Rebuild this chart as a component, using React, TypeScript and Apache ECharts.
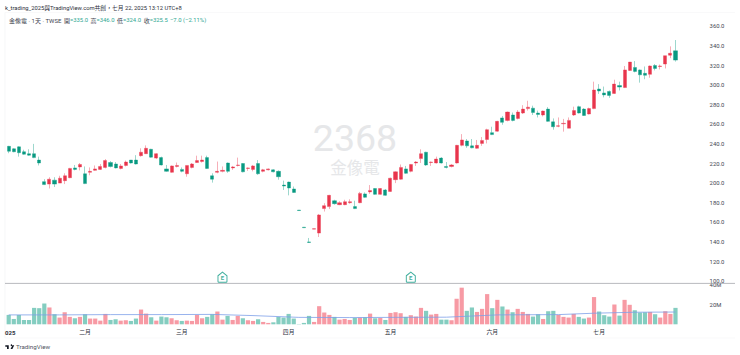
import React, { useEffect, useRef } from "react";
import * as echarts from "echarts";

const FONT = 'Roboto, "Noto Sans CJK TC", sans-serif';
const UP = "#e8354c";
const DOWN = "#089981";
const UP_VOL = "#f79aa4";
const DOWN_VOL = "#84cdc0";
const TEAL_TEXT = "#2fa893";
const DARK = "#434651";

const titleText = "k_trading_2025與TradingView.com共創，七月 22, 2025 13:12 UTC+8";
const legendName = "金像電 · 1天 · TWSE";
const legendItems = [
  { label: "開", value: "=335.0" },
  { label: "高", value: "=346.0" },
  { label: "低", value: "=324.0" },
  { label: "收", value: "=325.5" },
];
const legendChange = "−7.0 (−2.11%)";
const watermarkCode = "2368";
const watermarkName = "金像電";

const opens = [
  237.5, 235, 237, 232, 230, 230, 223.5, 201.5, 199, 203,
  200, 202.5, 205.5, 215.5, 216.5, 209.5, 211, 213, 214, 216,
  221, 219.5, 215, 218, 223.5, 223.5, 228, 230, 234.5, 225.5,
  226, 214.5, 211, 217, 214, 209.5, 216, 221, 222, 226,
  207.5, 211, 212, 220.5, 215.5, 218, 220, 215, 214, 220,
  212, 213.5, 213.5, 212, 198, 201, 194, 172.5, 155, 140,
  153, 149, 174, 176, 182, 178, 178, 180, 176, 180,
  189, 191, 194.5, 188.5, 193, 191.5, 203.5, 204, 214.5, 212,
  220.5, 225, 231.5, 221, 220.5, 225.5, 217, 217, 220.5, 238.5,
  243, 238, 235.5, 240.5, 244.5, 251.5, 253, 266.5, 264, 269.5,
  266, 271.5, 276, 276.5, 271.5, 269.5, 275.5, 262.5, 258, 260.5,
  256, 269.5, 278, 275.5, 270.5, 276, 296, 292, 293.5, 291.5,
  299.5, 297.5, 315, 318, 315.5, 312, 311, 320, 319, 321.5,
  330.5, 335,
];
const closes = [
  232.5, 232, 231, 229.5, 228.5, 226, 220.5, 198.5, 204, 199,
  205, 207.5, 215, 214, 219, 199.5, 212, 214.5, 217, 223,
  217, 215.5, 217.5, 221.5, 220.5, 219.5, 231.5, 235.5, 226.5, 230,
  218.5, 212, 217.5, 218, 212, 218, 219.5, 223, 223.5, 215,
  204, 212, 213, 212, 216.5, 218.5, 211.5, 215.5, 217.5, 209.5,
  213.5, 214.5, 211.5, 206.5, 197, 195, 190.5, 172, 154.5, 139.5,
  153.5, 167.5, 177, 187.5, 179, 180, 181, 181, 174, 189.5,
  185.5, 192.5, 188.5, 194.5, 187.5, 205, 211.5, 216, 210, 219,
  221.5, 230, 218.5, 221.5, 224.5, 220.5, 216, 218.5, 238.5, 244,
  238, 236, 238.5, 243.5, 254.5, 249.5, 263, 262, 272.5, 264,
  272.5, 275.5, 277.5, 272, 270, 273.5, 263, 257.5, 258.5, 261,
  264, 274, 271.5, 269, 276, 295, 294, 290, 289.5, 301,
  298, 315.5, 323.5, 314, 310.5, 310, 319.5, 317, 319.5, 330,
  332.5, 325.5,
];
const lows = [
  230.5, 231.5, 227, 229, 228, 225.5, 218, 198, 194.5, 196,
  200, 199, 205, 213, 213, 199, 208, 212.5, 213.5, 215,
  216, 215, 214, 217, 220, 219, 227, 230, 226, 224.5,
  218, 211.5, 210.5, 216, 211, 206.5, 215, 220.5, 221, 214.5,
  200.5, 210, 211, 210.5, 213.5, 217, 211, 212.5, 212, 208.5,
  211, 213, 211, 203.5, 193, 187.5, 190, 172, 154.5, 139,
  153, 145, 171, 173.5, 178, 177.5, 177.5, 179, 173.5, 179.5,
  185, 189, 188, 188, 187, 191, 200, 203.5, 209.5, 211,
  217.5, 220.5, 217.5, 217.5, 220, 220, 215, 216, 220, 237.5,
  236, 235.5, 235, 238, 240.5, 249, 252.5, 259.5, 263, 263,
  265, 270.5, 274, 269.5, 267, 268, 262.5, 254.5, 257, 252.5,
  256, 268.5, 271, 268.5, 270, 275.5, 291, 287.5, 287, 291,
  294.5, 297, 314.5, 313, 302.5, 306, 307.5, 315, 316, 317,
  327.5, 324,
];
const highs = [
  238, 235.5, 237.5, 234, 234.5, 240, 227, 204, 206, 206,
  207.5, 210, 215.5, 218.5, 220.5, 217, 216, 218, 219.5, 224.5,
  222.5, 221.5, 219.5, 223, 223.5, 228.5, 235.5, 238.5, 235, 230.5,
  227, 218.5, 218, 221, 216, 218, 220.5, 228, 228, 228,
  210, 222, 217, 221, 217.5, 226, 220.5, 216, 218.5, 223.5,
  214.5, 215, 214, 213, 202.5, 201.5, 196.5, 172.5, 155, 144,
  153.5, 168.5, 179.5, 188, 183, 181.5, 183, 183.5, 182, 191,
  190.5, 198, 195, 195, 194, 205.5, 212, 219, 217.5, 219.5,
  222.5, 234.5, 232, 222, 227, 226.5, 221.5, 219.5, 239, 250,
  245, 245, 244, 247, 255.5, 257.5, 263.5, 268.5, 273, 272,
  274.5, 279.5, 284, 279, 274, 274, 277.5, 266, 267, 265.5,
  267, 278, 279, 276.5, 277, 303.5, 301, 298.5, 294.5, 305.5,
  303.5, 319.5, 323.5, 324.5, 316, 319, 320, 321.5, 321, 330,
  339.5, 346,
];
const volumes = [
  9.5, 5.4, 9.5, 4.4, 4.4, 16.6, 16.3, 21, 17, 10.2,
  6.8, 12.2, 7.5, 6.1, 7.5, 10.2, 5.8, 5.8, 3.7, 10.5,
  4.4, 5.1, 3.7, 4.1, 3.4, 5.8, 14.9, 10.8, 7.1, 3.7,
  7.8, 7.1, 6.1, 4.1, 3.4, 3.7, 3.4, 9.5, 6.1, 7.5,
  10.2, 12.9, 4.7, 8.5, 4.4, 8.5, 6.1, 4.1, 3.4, 5.1,
  2.4, 1.4, 2, 7.5, 6.8, 10.5, 5.8, 0.3, 1.4, 8.5,
  2.4, 18.3, 11.9, 9.5, 7.5, 4.7, 5.4, 4.4, 6.4, 6.8,
  7.1, 10.8, 6.1, 6.4, 4.4, 11.5, 12.2, 11.2, 7.5, 9.2,
  7.8, 16.6, 13.6, 9.8, 10.5, 4.7, 4.7, 4.1, 25.8, 37,
  13.6, 17, 12.5, 15.6, 30.5, 16.3, 24.7, 18, 14.9, 12.2,
  15.6, 12.5, 10.5, 7.8, 10.2, 5.4, 13.2, 13.6, 9.5, 7.5,
  6.8, 10.5, 7.5, 5.8, 6.8, 27.5, 12.9, 9.2, 7.8, 20,
  8.8, 24.7, 19.7, 14.2, 11.9, 12.2, 12.5, 10.2, 6.8, 13.2,
  10.5, 16.6,
];
// Volume moving average read at a handful of candles
const volumeMaReadings: [number, number][] = [
  [0, 9.5], [10, 9.5], [20, 9.8], [30, 9.8], [40, 10], [48, 8.8], [57, 7],
  [67, 6.8], [76, 7], [86, 7.2], [96, 9.5], [108, 9.8], [115, 11.2], [123, 12.2], [131, 12.4],
];
const monthLabels: Record<number, string> = {
  0: "{y|025}", 15: "二月", 34: "三月", 55: "四月", 75: "五月", 95: "六月", 116: "七月",
};
const earningsIndexes = [42, 79];
const earningsMarkerPrice = 104;

const CATEGORY_COUNT = 138;
const BAND = 5.09;
const GRID_LEFT = 6.15;
const GRID_WIDTH = CATEGORY_COUNT * BAND;

const HOUSE_PATH = "path://M1 5 L6 0.6 L11 5 L11 12.2 Q11 13 10 13 L2 13 Q1 13 1 12.2 Z";
const TV_LOGO = "M14 25H7v-8H0V11h14v14zm15 0h-7.5l7.5-14h7.5l-7.5 14zM28 11a3 3 0 1 1-6 0 3 3 0 0 1 6 0z";

export default function App() {
  const ref = useRef<HTMLDivElement>(null);
  useEffect(() => {
    document.body.style.margin = "0";
    document.body.style.background = "#fff";
    try {
      echarts.graphic.registerShape("tvLogo", echarts.graphic.extendPath(TV_LOGO as any, {}) as any);
    } catch (e) {}
    const chart = echarts.init(ref.current!, null, { renderer: "svg" });
    const cats = Array.from({ length: CATEGORY_COUNT }, (_, i) => String(i));
    const candle = opens.map((o, i) => [o, closes[i], lows[i], highs[i]]);
    const vols = volumes.map((v, i) => ({
      value: v,
      itemStyle: { color: closes[i] >= opens[i] ? UP_VOL : DOWN_VOL },
    }));
    const maData: (number | null)[] = cats.map(() => null);
    volumeMaReadings.forEach(([i, v]) => (maData[i] = v));

    const lx = [64, 90.5, 117, 143.7];
    const legendGraphics = legendItems.map((it, i) => ({
      type: "text",
      x: lx[i],
      y: 20.3,
      style: {
        text: `{a|${it.label}}{b|${it.value}}`,
        verticalAlign: "middle",
        rich: {
          a: { fontFamily: FONT, fontSize: 6, fill: DARK, color: DARK },
          b: { fontFamily: FONT, fontSize: 5.9, fill: TEAL_TEXT, color: TEAL_TEXT },
        },
      },
    }));

    chart.setOption({
      animation: false,
      backgroundColor: "#ffffff",
      textStyle: { fontFamily: FONT },
      grid: [
        { left: GRID_LEFT, top: 26.3, width: GRID_WIDTH, height: 254.8 },
        { left: GRID_LEFT, top: 284.7, width: GRID_WIDTH, height: 39.6 },
      ],
      xAxis: [
        {
          type: "category", gridIndex: 0, data: cats, boundaryGap: true,
          axisLine: { show: false }, axisTick: { show: false }, axisLabel: { show: false }, splitLine: { show: false },
        },
        {
          type: "category", gridIndex: 1, data: cats, boundaryGap: true,
          axisLine: { show: false }, axisTick: { show: false }, splitLine: { show: false },
          axisLabel: {
            show: true,
            margin: 5,
            fontSize: 5.8,
            color: "#2a2e39",
            fontFamily: FONT,
            hideOverlap: false,
            interval: (i: number) => monthLabels[i] !== undefined,
            formatter: (_: string, i: number) => monthLabels[i] ?? "",
            rich: { y: { fontWeight: "bold", fontSize: 6, fontFamily: FONT, color: "#2a2e39", padding: [0, 0, 0, 3] } },
          },
        },
      ],
      yAxis: [
        {
          type: "value", gridIndex: 0, position: "right", min: 100, max: 360, interval: 20, scale: true,
          axisLine: { show: false }, axisTick: { show: false }, splitLine: { show: false },
          axisLabel: { margin: 1, fontSize: 5.9, color: DARK, fontFamily: FONT, formatter: (v: number) => v.toFixed(1) },
        },
        {
          type: "value", gridIndex: 1, position: "right", min: 0, max: 40, interval: 20,
          axisLine: { show: false }, axisTick: { show: false }, splitLine: { show: false },
          axisLabel: {
            margin: 1, fontSize: 5.9, color: DARK, fontFamily: FONT,
            formatter: (v: number) => (v === 0 ? "" : `${v}M`),
          },
        },
      ],
      series: [
        {
          type: "candlestick", xAxisIndex: 0, yAxisIndex: 0, data: candle, barWidth: 3.6,
          itemStyle: { color: UP, color0: DOWN, borderColor: UP, borderColor0: DOWN, borderWidth: 0.4 },
        },
        {
          type: "scatter", xAxisIndex: 0, yAxisIndex: 0,
          data: earningsIndexes.map((i) => [i, earningsMarkerPrice]),
          symbol: HOUSE_PATH, symbolSize: [9, 10],
          itemStyle: { color: "#ffffff", borderColor: "#0f9a85", borderWidth: 1 },
          label: { show: true, position: "inside", formatter: "E", fontSize: 6, fontWeight: "bold", color: "#0f9a85", fontFamily: FONT, offset: [0, 0.5] },
          z: 5,
        },
        {
          type: "bar", xAxisIndex: 1, yAxisIndex: 1, data: vols, barWidth: 4.2,
        },
        {
          type: "line", xAxisIndex: 1, yAxisIndex: 1, data: maData, connectNulls: true,
          showSymbol: false, symbol: "none",
          lineStyle: { color: "#7d9fe8", width: 0.8 }, z: 4,
        },
      ],
      graphic: [
        { type: "line", z: 0, shape: { x1: 5, y1: 12.5, x2: 735, y2: 12.5 }, style: { stroke: "#f5f5f6", lineWidth: 0.6 } },
        { type: "line", z: 0, shape: { x1: 5, y1: 338, x2: 735, y2: 338 }, style: { stroke: "#f5f5f6", lineWidth: 0.6 } },
        { type: "line", z: 0, shape: { x1: 5, y1: 12.5, x2: 5, y2: 338 }, style: { stroke: "#f0f1f4", lineWidth: 0.6 } },
        { type: "line", z: 1, shape: { x1: 5, y1: 283.4, x2: 735, y2: 283.4 }, style: { stroke: "#a6a8ad", lineWidth: 0.8 } },
        { type: "text", z: 0, x: 355, y: 138, style: { text: watermarkCode, font: `37.5px ${FONT}`, fill: "#e6e7e9", align: "center", verticalAlign: "middle" } },
        { type: "text", z: 0, x: 355, y: 168, style: { text: watermarkName, font: `16.5px ${FONT}`, fill: "#e6e7e9", align: "center", verticalAlign: "middle" } },
        { type: "text", x: 5, y: 7.6, style: { text: titleText, font: `5.8px ${FONT}`, fill: "#2a2e39", verticalAlign: "middle" } },
        { type: "text", x: 9, y: 20.3, style: { text: legendName, font: `6px ${FONT}`, fill: DARK, verticalAlign: "middle" } },
        ...legendGraphics,
        { type: "text", x: 170, y: 20.3, style: { text: legendChange, font: `5.9px ${FONT}`, fill: TEAL_TEXT, verticalAlign: "middle" } },
        { type: "tvLogo", x: 5.3, y: 342.1, scaleX: 0.245, scaleY: 0.28, style: { fill: "#131722" } },
        { type: "text", x: 16, y: 347.3, style: { text: "TradingView", font: `6.2px ${FONT}`, fill: "#50535e", verticalAlign: "middle" } },
      ],
    } as any);
    return () => chart.dispose();
  }, []);
  return <div ref={ref} style={{ width: 740, height: 355 }} />;
}
